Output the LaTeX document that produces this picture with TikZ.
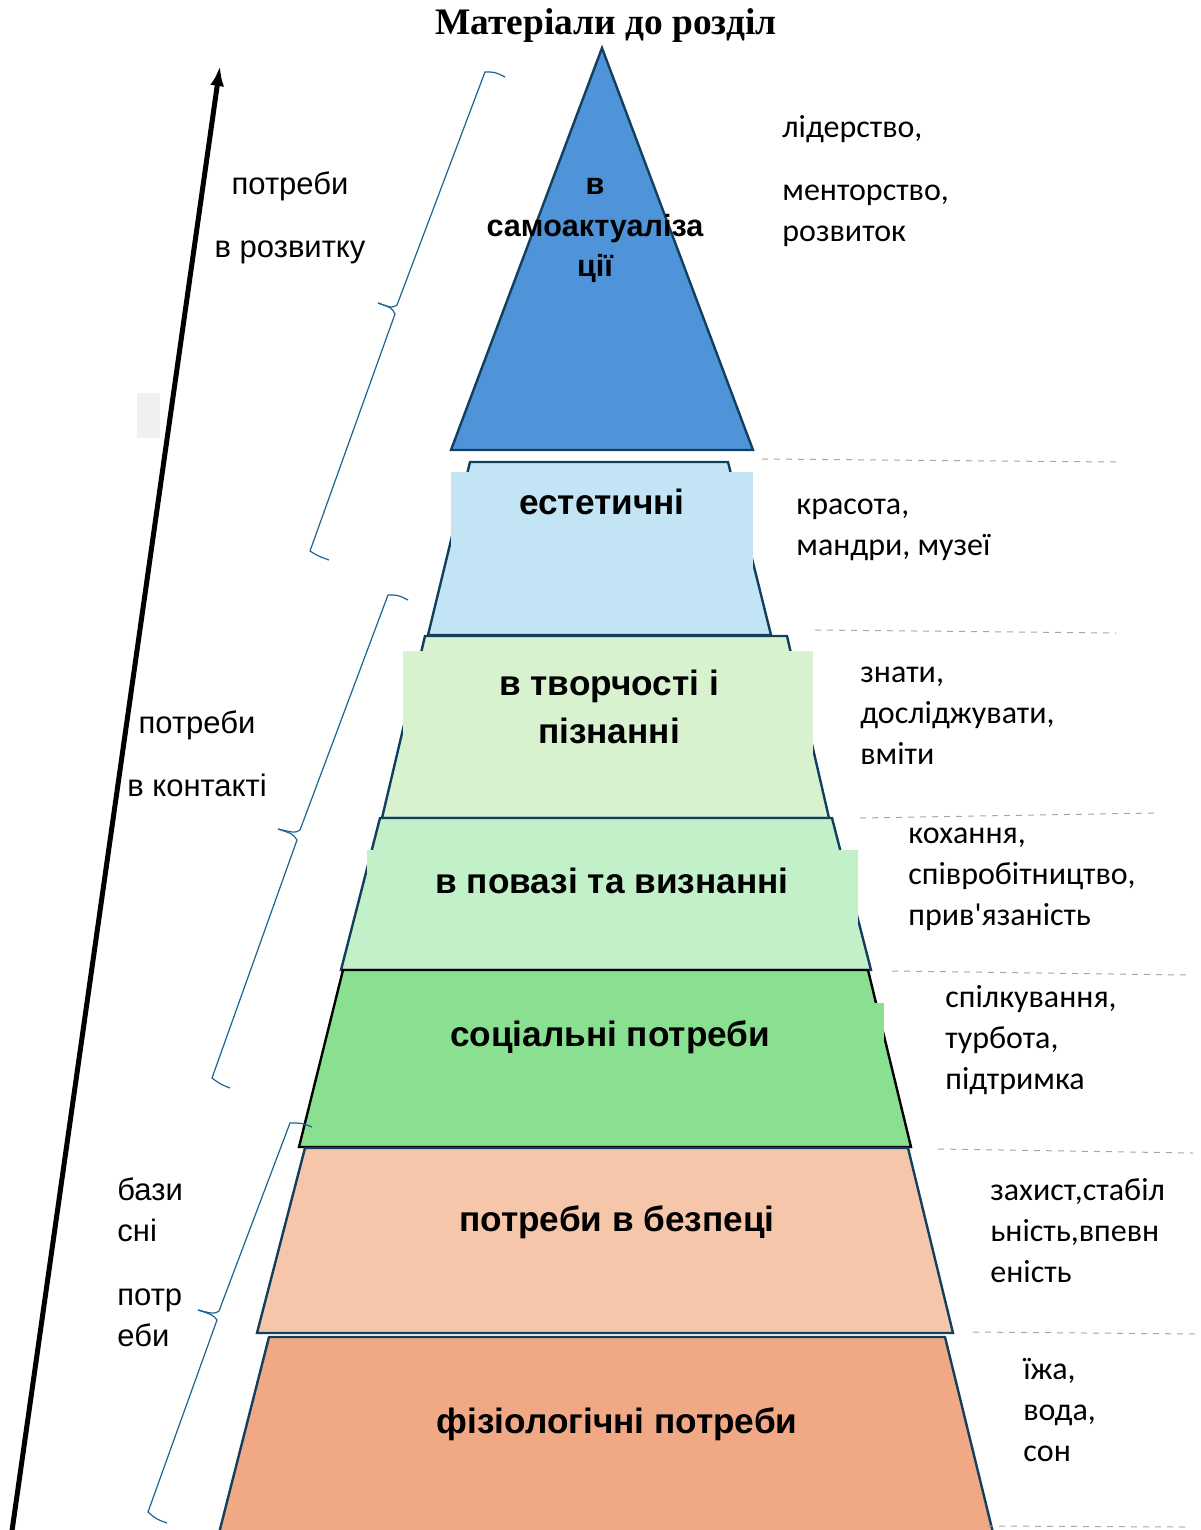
\documentclass[tikz,border=0pt]{standalone}
\usepackage{fontspec}
\setmainfont{Liberation Serif}
\newfontfamily\notefont[Ligatures=TeXOff]{Carlito}
\newfontfamily\layerfont{Liberation Sans}
\newfontfamily\sidefont{Liberation Sans}
\usetikzlibrary{arrows.meta,positioning}
\definecolor{triblue}{HTML}{4F94D8}
\definecolor{aesblue}{HTML}{C2E4F4}
\definecolor{crelight}{HTML}{D8F2D0}
\definecolor{estgreen}{HTML}{C2F0C8}
\definecolor{socgreen}{HTML}{88E090}
\definecolor{safpeach}{HTML}{F5C6AA}
\definecolor{phyorange}{HTML}{F0A984}
\definecolor{edgenavy}{HTML}{123F5E}
\definecolor{brcblue}{HTML}{1F6391}
\definecolor{guidegray}{HTML}{A6A6A6}
\tikzset{>=latex}
\tikzset{
  layer/.style={draw=edgenavy,line width=1.2pt},
  lbl/.style={font=\layerfont\bfseries\fontsize{17.6}{24}\selectfont,align=center,anchor=base,inner sep=0pt},
  note/.style={font=\notefont\fontsize{16}{20.5}\selectfont,align=left,anchor=base west,inner sep=0pt},
  side/.style={font=\sidefont\fontsize{15.5}{20.5}\selectfont,anchor=base,inner sep=0pt},
  brc/.style={draw=brcblue,line width=0.6pt},
  guide/.style={draw=guidegray,dashed,line width=0.5pt}
}

\begin{document}
\begin{tikzpicture}[x=0.5pt,y=-0.5pt]
  \useasboundingbox (0,0) rectangle (1200,1530);

  % pyramid
  \filldraw [layer,fill=triblue] (602,48) -- (753,450) -- (451,450) -- cycle;
  \filldraw [layer,fill=aesblue] (470,462) -- (728,462) -- (771,635) -- (428,635) -- cycle;
  \fill [aesblue] (451,472) rectangle (753,600);
  \filldraw [layer,fill=crelight] (425,636) -- (787,636) -- (829,818) -- (382,818) -- cycle;
  \fill [crelight] (403,651) rectangle (813,790);
  \filldraw [layer,fill=estgreen] (380,818) -- (832,818) -- (871,970) -- (341,970) -- cycle;
  \fill [estgreen] (367,850) rectangle (858,935);
  \filldraw [layer,draw=black,fill=socgreen] (343,970) -- (868,970) -- (911,1147) -- (299,1147) -- cycle;
  \fill [socgreen] (345,1003) rectangle (884,1100);
  \filldraw [layer,fill=safpeach] (305,1148) -- (908,1148) -- (953,1333) -- (257,1333) -- cycle;
  \filldraw [layer,fill=phyorange] (269,1337) -- (945,1337) -- (996,1545) -- (216,1545) -- cycle;

  \node [lbl,font=\layerfont\bfseries\fontsize{15.3}{20.5}\selectfont] (selfact) at (595,277) {в\\самоактуаліза\\ції};
  \node [lbl] (aesth) at (602,514) {естетичні};
  \node [lbl] (create) at (609,743) {в творчості і\\пізнанні};
  \node [lbl] (esteem) at (612,893) {в повазі та визнанні};
  \node [lbl] (social) at (610,1046) {соціальні потреби};
  \node [lbl] (safety) at (617,1231) {потреби в безпеці};
  \node [lbl] (physio) at (617,1433) {фізіологічні потреби};

  % guide lines
  \draw [guide] (762,459) -- (1118,462);
  \draw [guide] (815,630) -- (1116,633);
  \draw [guide] (860,818) -- (1154,813);
  \draw [guide] (892,971) -- (1187,975);
  \draw [guide] (938,1149) -- (1193,1153);
  \draw [guide] (973,1332) -- (1198,1334);
  \draw [guide] (987,1526) -- (1185,1527);

  % examples on the right
  \node [note] (lead) at (782,138) {лідерство,};
  \node [note] (mentor) at (782,242) {менторство,\\розвиток};
  \node [note] (beauty) at (796,555) {красота,\\мандри, музеї};
  \node [note] (know) at (860,764) {знати,\\досліджувати,\\вміти};
  \node [note] (love) at (908,925) {кохання,\\співробітництво,\\прив'язаність};
  \node [note] (talk) at (945,1089) {спілкування,\\турбота,\\підтримка};
  \node [note] (protect) at (990,1282) {захист,стабіл\\ьність,впевн\\еність};
  \node [note] (food) at (1023,1461) {їжа,\\вода,\\сон};

  % braces and groups on the left
  \draw [brc] (505,77) .. controls (495,72) .. (485,72) -- (397,305) .. controls (392,308) .. (378,303);
  \draw [brc] (378,303) .. controls (392,308) .. (395,314) -- (310,551) .. controls (318,556) .. (329,560);
  \draw [brc] (408,600) .. controls (398,595) .. (388,595) -- (300,830) .. controls (295,833) .. (278,829);
  \draw [brc] (278,829) .. controls (293,834) .. (297,840) -- (212,1078) .. controls (220,1084) .. (230,1088);
  \draw [brc] (312,1127) .. controls (302,1123) .. (290,1123) -- (219,1311) .. controls (214,1314) .. (198,1310);
  \draw [brc] (198,1310) .. controls (213,1315) .. (217,1320) -- (148,1512) .. controls (156,1519) .. (167,1523);

  \node [side,align=center] (grow) at (290,257) {потреби\\[11pt]в розвитку};
  \node [side,align=center] (contact) at (197,796) {потреби\\[11pt]в контакті};
  \node [side,align=left,anchor=base west] (basic) at (117,1346) {бази\\сні\\[11.5pt]потр\\еби};

  \fill [black!6] (137,393) rectangle (160,438);

  % growth arrow
  \coordinate (arrbot) at (10,1545);
  \coordinate (arrtop) at (220,66);
  \draw [line width=2.5pt,-{Latex[length=10pt,width=7pt]}] (arrbot) -- (arrtop);

  \node [font=\bfseries\fontsize{18.7}{20}\selectfont,anchor=base,inner sep=0pt] (title) at (606,35) {Матеріали до розділ};
\end{tikzpicture}
\end{document}
